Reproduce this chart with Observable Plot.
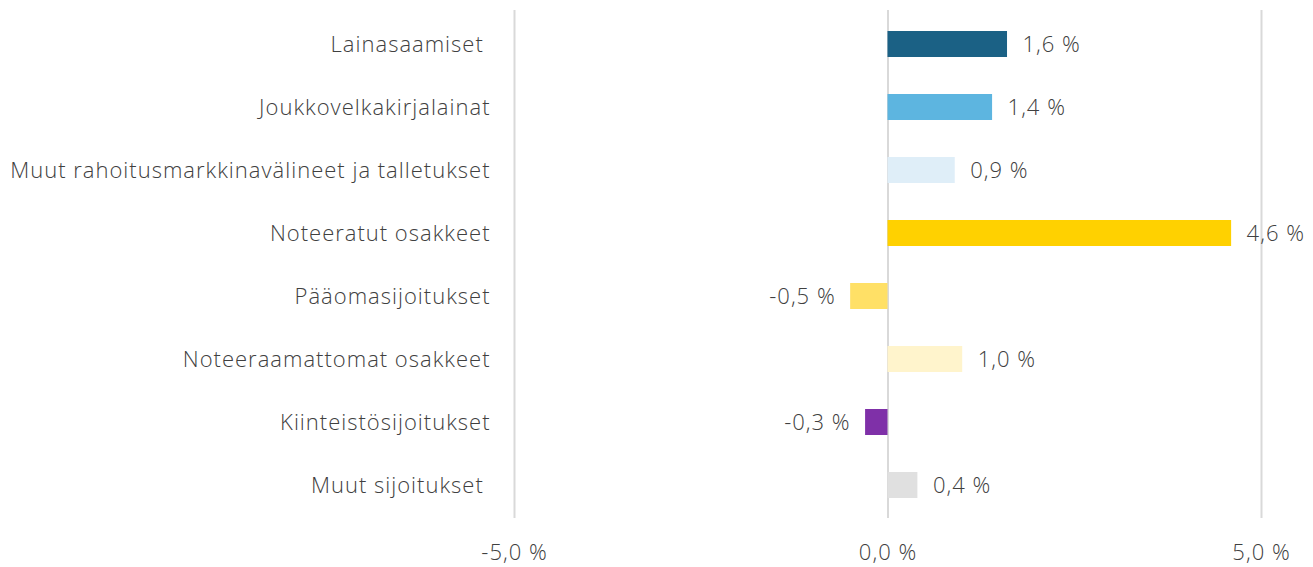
<!DOCTYPE html>
<html>
<head>
<meta charset="utf-8">
<script src="https://cdn.jsdelivr.net/npm/d3@7"></script>
<script src="https://cdn.jsdelivr.net/npm/@observablehq/plot@0.6"></script>
<style>
  html, body { margin: 0; padding: 0; background: #fff; }
  #chart svg { font-family: "Open Sans", Lato, "Noto Sans", sans-serif; font-weight: 300; letter-spacing: 1px; }
</style>
</head>
<body>
<div id="chart"></div>
<script>
const categories = [
  "Lainasaamiset\u00a0",
  "Joukkovelkakirjalainat",
  "Muut rahoitusmarkkinavälineet ja talletukset",
  "Noteeratut osakkeet",
  "Pääomasijoitukset",
  "Noteeraamattomat osakkeet",
  "Kiinteistösijoitukset",
  "Muut sijoitukset\u00a0"
];
const values = [1.6, 1.4, 0.9, 4.6, -0.5, 1.0, -0.3, 0.4];
const colors = ["#1b6185", "#5db5e0", "#dfeef8", "#ffd100", "#ffe066", "#fff4cc", "#7f30a8", "#e0e0e0"];
const xTicks = [-5, 0, 5];

const data = categories.map((c, i) => ({cat: c, value: values[i], color: colors[i]}));
const fmt = v => v.toFixed(1).replace(".", ",") + "\u00a0%";

const chart = Plot.plot({
  width: 1313,
  height: 567,
  marginLeft: 514,
  marginRight: 52,
  marginTop: 10,
  marginBottom: 49,
  style: {fontSize: "22px", color: "#404040", background: "#fff"},
  x: {domain: [-5, 5], ticks: xTicks, tickFormat: fmt, label: null},
  y: {domain: categories, paddingInner: 0.59, paddingOuter: 0.27, label: null},
  marks: [
    Plot.ruleX(xTicks, {stroke: "#d9d9d9", strokeWidth: 2}),
    Plot.barX(data, {x: "value", y: "cat", fill: d => d.color}),
    Plot.text(data.filter(d => d.value >= 0), {x: "value", y: "cat", text: d => fmt(d.value), textAnchor: "start", dx: 15, fill: "#404040", fontSize: 22}),
    Plot.text(data.filter(d => d.value < 0), {x: "value", y: "cat", text: d => fmt(d.value), textAnchor: "end", dx: -15, fill: "#404040", fontSize: 22}),
    Plot.axisX({ticks: xTicks, tickFormat: fmt, tickSize: 0, tickPadding: 26, label: null, fontSize: 22}),
    Plot.axisY({tickSize: 0, tickPadding: 24, label: null, fontSize: 22})
  ]
});
document.getElementById("chart").append(chart);
</script>
</body>
</html>
